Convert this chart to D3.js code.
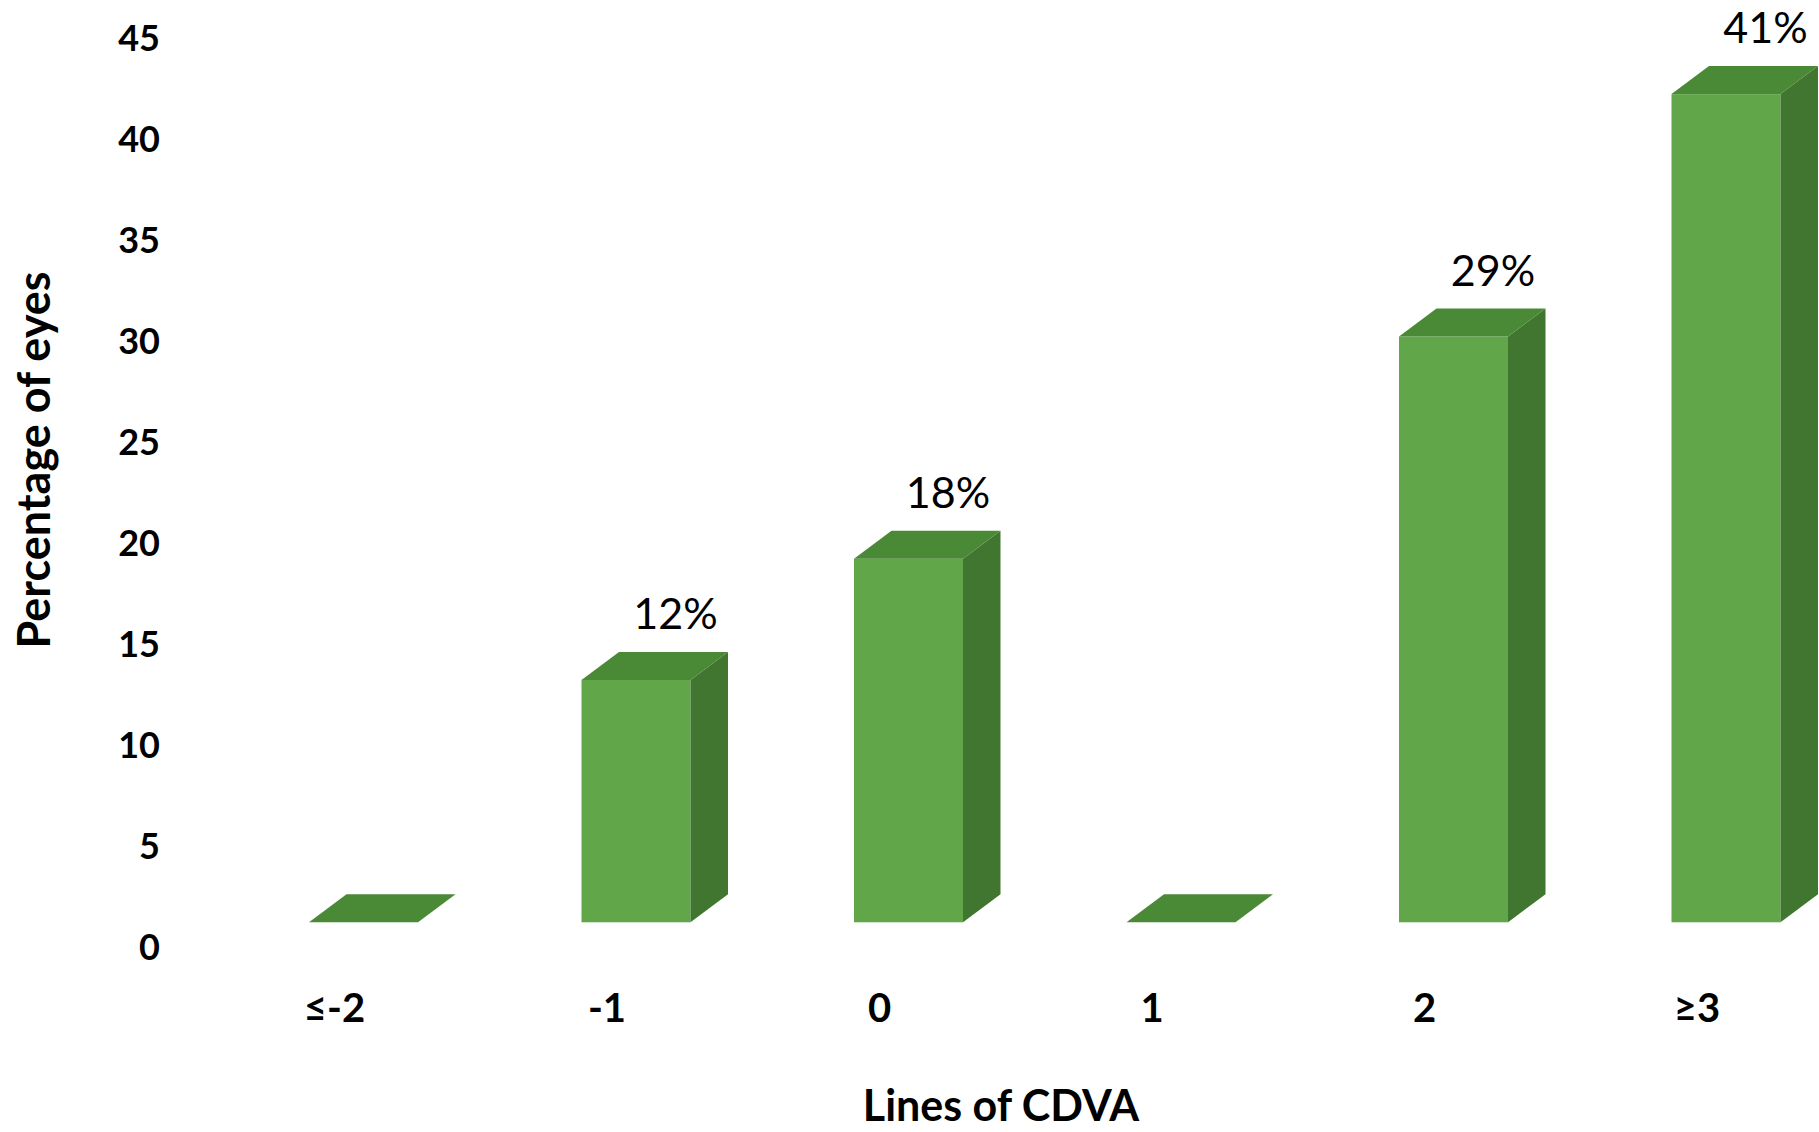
<!DOCTYPE html>
<html>
<head>
<meta charset="utf-8">
<script src="https://cdn.jsdelivr.net/npm/d3@7"></script>
<style>
  html, body { margin: 0; padding: 0; background: #ffffff; }
  svg { display: block; }
  text { font-family: Lato, "Open Sans", "Noto Sans", sans-serif; fill: #000; }
</style>
</head>
<body>
<script>
// Change in corrected distance visual acuity (lines) and share of eyes
const categories = ["≤-2", "-1", "0", "1", "2", "≥3"];
const percentages = [0, 12, 18, 0, 29, 41];
const yTicks = [0, 5, 10, 15, 20, 25, 30, 35, 40, 45];

const W = 1819, H = 1132;
const depthX = 37.5, depthY = 28;          // oblique offset of the 3D columns
const colFront = "#61a74a", colTop = "#4a8936", colSide = "#40762f";

const svg = d3.select("body").append("svg")
  .attr("width", W).attr("height", H);

const x = d3.scaleBand()
  .domain(categories)
  .range([227.25, 1862.25])
  .paddingInner(0.6)
  .paddingOuter(0.3);

const y = d3.scaleLinear()
  .domain([0, 45])
  .range([922.3, 922.3 - 45 * 20.2]);

const bw = x.bandwidth();
const data = categories.map((c, i) => ({ cat: c, value: percentages[i] }));

// Value axis labels (no line, no ticks)
const yAxis = svg.append("g")
  .attr("transform", "translate(160, 24.4)")
  .call(d3.axisLeft(y).tickValues(yTicks).tickSize(0).tickPadding(0).tickFormat(d3.format("d")));
yAxis.select(".domain").remove();
yAxis.selectAll("text")
  .attr("dy", "0.36em")
  .style("font-family", "Lato, 'Open Sans', sans-serif")
  .style("font-size", "36px")
  .style("font-weight", "700")
  .attr("fill", "#000");

// Category axis labels
const xAxis = svg.append("g")
  .attr("transform", "translate(-29, 1022)")
  .call(d3.axisBottom(x).tickSize(0).tickPadding(0));
xAxis.select(".domain").remove();
xAxis.selectAll("text")
  .attr("y", 0)
  .attr("dy", 0)
  .style("font-family", "Lato, 'Open Sans', sans-serif")
  .style("font-size", "40px")
  .style("font-weight", "700")
  .attr("fill", "#000");

// 3D columns
const bars = svg.append("g").selectAll("g.bar")
  .data(data)
  .join("g")
  .attr("class", "bar");

const poly = pts => "M" + pts.map(p => p.join(",")).join("L") + "Z";

bars.each(function(d) {
  const g = d3.select(this);
  const x0 = x(d.cat), x1 = x0 + bw;
  const yt = y(d.value), yb = y(0);
  if (d.value > 0) {
    g.append("rect")
      .attr("x", x0).attr("y", yt)
      .attr("width", bw).attr("height", yb - yt)
      .attr("fill", colFront);
    g.append("path")
      .attr("d", poly([[x1, yt], [x1 + depthX, yt - depthY], [x1 + depthX, yb - depthY], [x1, yb]]))
      .attr("fill", colSide);
  }
  g.append("path")
    .attr("d", poly([[x0, yt], [x0 + depthX, yt - depthY], [x1 + depthX, yt - depthY], [x1, yt]]))
    .attr("fill", colTop);
});

// Value labels above the columns
svg.append("g").selectAll("text")
  .data(data.filter(d => d.value > 0))
  .join("text")
  .attr("x", d => x(d.cat) + bw / 2 + depthX + 2)
  .attr("y", d => y(d.value) - depthY - 23)
  .attr("text-anchor", "middle")
  .style("font-size", "43px")
  .style("font-weight", "400")
  .text(d => d.value + "%");

// Axis titles
svg.append("text")
  .attr("x", 1001).attr("y", 1121)
  .attr("text-anchor", "middle")
  .style("font-size", "43px")
  .style("font-weight", "700")
  .text("Lines of CDVA");

svg.append("text")
  .attr("transform", "translate(50, 460) rotate(-90)")
  .attr("text-anchor", "middle")
  .style("font-size", "45px")
  .style("font-weight", "700")
  .text("Percentage of eyes");
</script>
</body>
</html>
